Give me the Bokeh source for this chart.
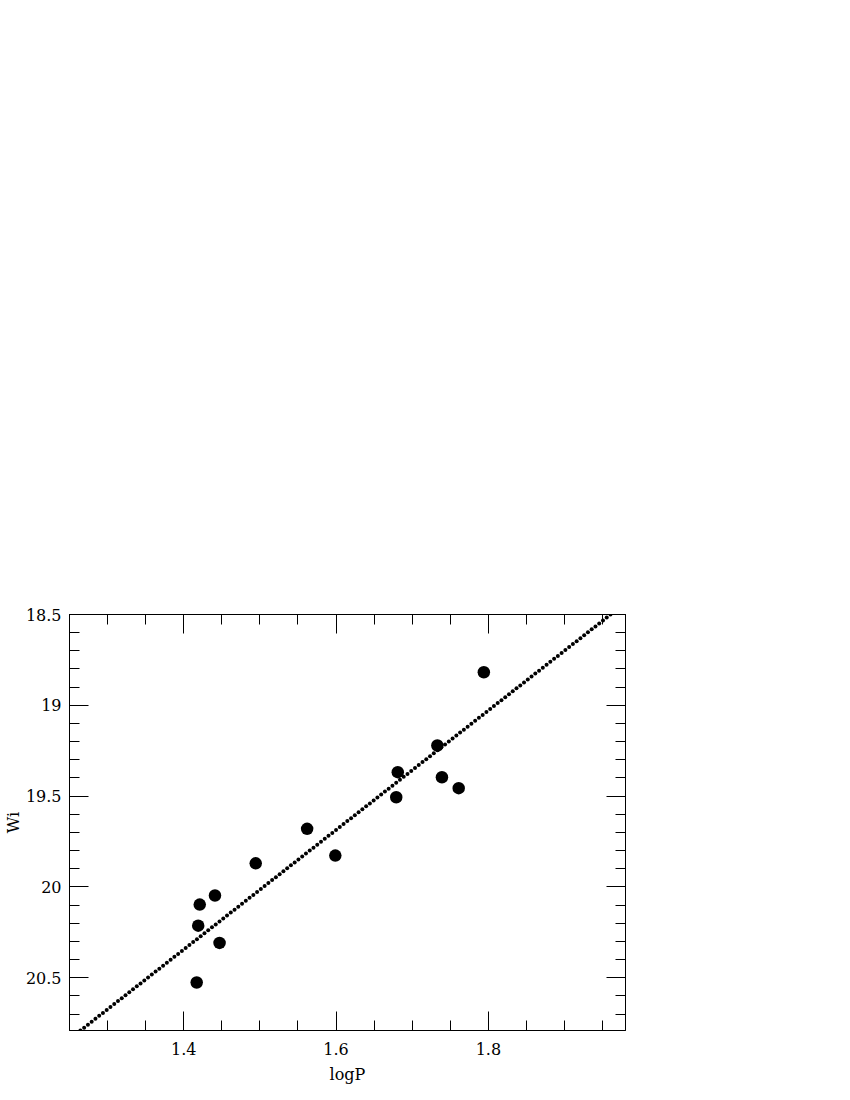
import numpy as np
from bokeh.plotting import figure
from bokeh.models import Range1d, LinearAxis, SingleIntervalTicker, CustomJSTickFormatter
from bokeh.embed import file_html
from bokeh.resources import INLINE

# Data
logP = [1.794, 1.733, 1.681, 1.739, 1.761, 1.679, 1.562, 1.599, 1.4945, 1.441, 1.421, 1.419, 1.447, 1.417]
Wi = [18.818, 19.221, 19.368, 19.396, 19.456, 19.506, 19.680, 19.827, 19.870, 20.047, 20.097, 20.213, 20.308, 20.526]

# Fitted relation Wi = a + b * logP (drawn as a dotted line)
fit_a = 24.95
fit_b = -3.29
fit_x_start = 1.2643
fit_x_end = 1.9603
fit_n_dots = 142

x_ticks = [1.4, 1.6, 1.8]
x_labels = ["1.4", "1.6", "1.8"]
y_ticks = [18.5, 19.0, 19.5, 20.0, 20.5]
y_labels = ["18.5", "19", "19.5", "20", "20.5"]

FONT = "DejaVu Serif"
FS = "16px"

p = figure(width=645, height=1095, output_backend="svg", toolbar_location=None,
           x_range=Range1d(1.25, 1.98), y_range=Range1d(20.79, 18.5),
           min_border_left=69, min_border_right=20, min_border_top=614, min_border_bottom=65,
           x_axis_label="logP", y_axis_label="Wi")
p.grid.visible = False
p.outline_line_color = "black"
p.outline_line_width = 1
p.background_fill_color = "white"
p.border_fill_color = "white"

def label_formatter(tick_vals, tick_texts):
    return CustomJSTickFormatter(
        args=dict(tv=list(tick_vals), tt=list(tick_texts)),
        code="""
        for (let i = 0; i < tv.length; i++) {
            if (Math.abs(tick - tv[i]) < 1e-6) { return tt[i]; }
        }
        return '';
        """)

def style_axis(ax, interval, minor, tick_vals, tick_texts, show_labels):
    ax.ticker = SingleIntervalTicker(interval=interval, num_minor_ticks=minor)
    ax.major_tick_in = 19
    ax.major_tick_out = 0
    ax.minor_tick_in = 10
    ax.minor_tick_out = 0
    ax.axis_line_color = "black"
    ax.major_tick_line_color = "black"
    ax.minor_tick_line_color = "black"
    ax.major_label_text_font = FONT
    ax.major_label_text_font_size = FS
    ax.major_label_text_color = "black"
    ax.axis_label_text_font = FONT
    ax.axis_label_text_font_size = FS
    ax.axis_label_text_font_style = "normal"
    ax.axis_label_text_color = "black"
    if show_labels:
        ax.formatter = label_formatter(tick_vals, tick_texts)
    else:
        ax.formatter = CustomJSTickFormatter(code="return '';")
        ax.major_label_standoff = 0

style_axis(p.xaxis[0], 0.2, 4, x_ticks, x_labels, True)
style_axis(p.yaxis[0], 0.5, 5, y_ticks, y_labels, True)
p.xaxis[0].major_label_standoff = 12
p.xaxis[0].axis_label_standoff = 7
p.yaxis[0].major_label_standoff = 8
p.yaxis[0].axis_label_standoff = 0

top = LinearAxis()
style_axis(top, 0.2, 4, x_ticks, x_labels, False)
p.add_layout(top, "above")
right = LinearAxis()
style_axis(right, 0.5, 5, y_ticks, y_labels, False)
p.add_layout(right, "right")

# dotted fit line
fx = np.linspace(fit_x_start, fit_x_end, fit_n_dots)
fy = fit_a + fit_b * fx
p.scatter(fx, fy, size=4, color="black", line_color=None)

p.scatter(logP, Wi, size=12.5, color="black", line_color=None)

open("out.html", "w").write(file_html(p, INLINE))
